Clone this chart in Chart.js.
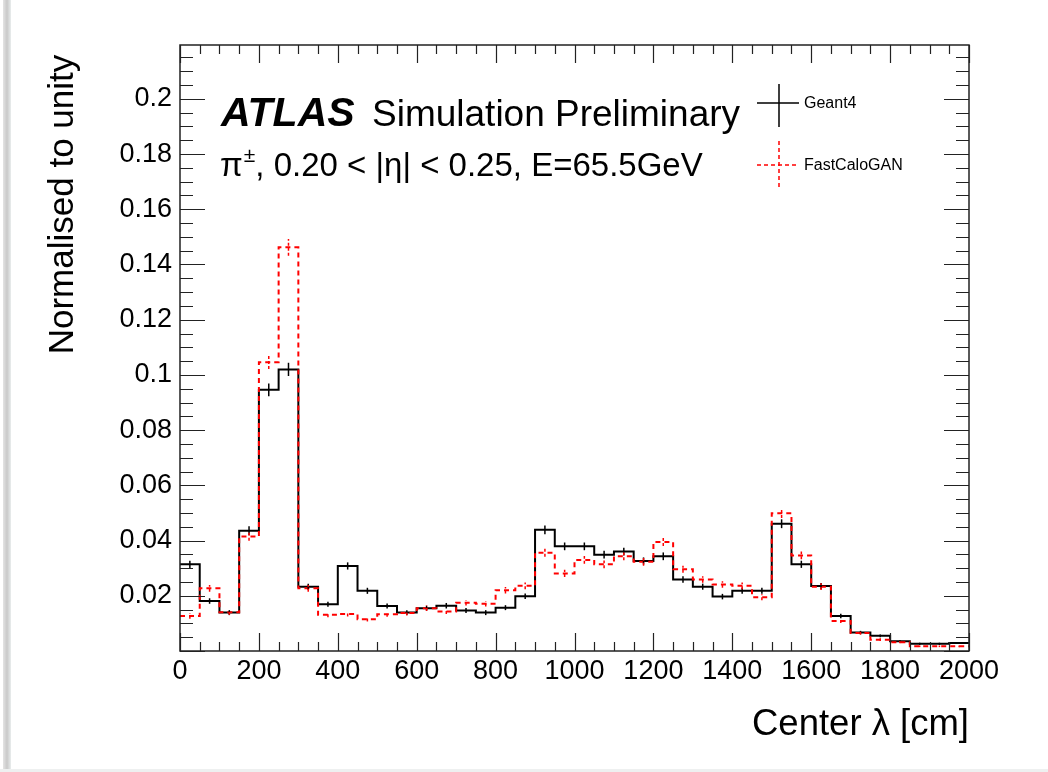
<!DOCTYPE html>
<html>
<head>
<meta charset="utf-8">
<script src="https://cdn.jsdelivr.net/npm/chart.js@4.4.1/dist/chart.umd.min.js"></script>
<style>
  html, body { margin: 0; padding: 0; background: #fff; }
  #wrap { position: relative; width: 1048px; height: 772px; overflow: hidden; }
  #myChart { position: absolute; left: 0; top: 0; }
  #edgeLeft { position: absolute; left: 3px; top: 0; width: 8px; height: 772px;
              background: linear-gradient(to right, #e4e4e4, #c9c9c9, #e9eded); }
  #edgeBottom { position: absolute; left: 0; bottom: 0; width: 1048px; height: 3px; background: #eef0f0; }
</style>
</head>
<body>
<div id="wrap">
  <canvas id="myChart" width="1048" height="772"></canvas>
  <div id="edgeLeft"></div>
  <div id="edgeBottom"></div>
</div>
<script>
// lower edge of each 50 cm bin
const binLow = [0, 50, 100, 150, 200, 250, 300, 350, 400, 450,
                500, 550, 600, 650, 700, 750, 800, 850, 900, 950,
                1000, 1050, 1100, 1150, 1200, 1250, 1300, 1350, 1400, 1450,
                1500, 1550, 1600, 1650, 1700, 1750, 1800, 1850, 1900, 1950];
const binWidth = 50;

const geant4 = [0.0314, 0.0181, 0.0139, 0.0436, 0.0946, 0.1020, 0.0233, 0.0169, 0.0308, 0.0218,
                0.0163, 0.0139, 0.0155, 0.0164, 0.0147, 0.0139, 0.0157, 0.0198, 0.0439, 0.0379,
                0.0379, 0.0349, 0.0360, 0.0326, 0.0343, 0.0259, 0.0233, 0.0197, 0.0218, 0.0218,
                0.0461, 0.0314, 0.0235, 0.0127, 0.0067, 0.0055, 0.0035, 0.0026, 0.0026, 0.0029];
const geant4Err = [0.0013, 0.0010, 0.0009, 0.0016, 0.0023, 0.0024, 0.0011, 0.0009, 0.0013, 0.0011,
                   0.0009, 0.0009, 0.0009, 0.0010, 0.0009, 0.0009, 0.0009, 0.0010, 0.0016, 0.0014,
                   0.0014, 0.0014, 0.0014, 0.0013, 0.0014, 0.0012, 0.0011, 0.0010, 0.0011, 0.0011,
                   0.0016, 0.0013, 0.0011, 0.0008, 0.0006, 0.0005, 0.0004, 0.0004, 0.0004, 0.0004];

const fastCaloGAN = [0.0127, 0.0227, 0.0140, 0.0415, 0.1046, 0.1462, 0.0227, 0.0131, 0.0134, 0.0115,
                     0.0133, 0.0138, 0.0155, 0.0143, 0.0175, 0.0171, 0.0220, 0.0236, 0.0356, 0.0281,
                     0.0330, 0.0314, 0.0343, 0.0323, 0.0395, 0.0296, 0.0259, 0.0241, 0.0236, 0.0195,
                     0.0499, 0.0346, 0.0233, 0.0109, 0.0065, 0.0041, 0.0032, 0.0017, 0.0017, 0.0017];
const fastCaloGANErr = [0.0010, 0.0012, 0.0009, 0.0016, 0.0025, 0.0030, 0.0012, 0.0009, 0.0009, 0.0008,
                        0.0009, 0.0009, 0.0010, 0.0009, 0.0010, 0.0010, 0.0012, 0.0012, 0.0015, 0.0013,
                        0.0014, 0.0014, 0.0014, 0.0014, 0.0015, 0.0013, 0.0012, 0.0012, 0.0012, 0.0011,
                        0.0017, 0.0014, 0.0012, 0.0008, 0.0006, 0.0005, 0.0004, 0.0003, 0.0003, 0.0003];

const xTickValues = [0, 200, 400, 600, 800, 1000, 1200, 1400, 1600, 1800, 2000];
const yTickValues = [0.02, 0.04, 0.06, 0.08, 0.1, 0.12, 0.14, 0.16, 0.18, 0.2];

const FONT = '"Liberation Sans", Arial, Helvetica, sans-serif';

// histogram outline: a point at each lower bin edge, plus the closing edge
function stepPoints(values) {
  const pts = binLow.map((x, i) => ({ x: x, y: values[i] }));
  pts.push({ x: binLow[binLow.length - 1] + binWidth, y: values[values.length - 1] });
  return pts;
}

// ROOT-like frame, inward ticks, error bars, labels and legend
const rootStyle = {
  id: 'rootStyle',
  afterDatasetsDraw(chart) {
    const ctx = chart.ctx;
    const xs = chart.scales.x, ys = chart.scales.y;
    const a = chart.chartArea;

    // error bars
    const errSets = [
      { vals: geant4, errs: geant4Err, color: '#000', dash: [] },
      { vals: fastCaloGAN, errs: fastCaloGANErr, color: '#ff0000', dash: [3, 2] }
    ];
    ctx.save();
    ctx.lineWidth = 1.5;
    errSets.forEach(s => {
      ctx.strokeStyle = s.color;
      ctx.setLineDash(s.dash);
      s.vals.forEach((v, i) => {
        const px = xs.getPixelForValue(binLow[i] + binWidth / 2);
        ctx.beginPath();
        ctx.moveTo(px, ys.getPixelForValue(v - s.errs[i]));
        ctx.lineTo(px, ys.getPixelForValue(v + s.errs[i]));
        ctx.stroke();
      });
    });
    ctx.setLineDash([]);

    // frame
    ctx.strokeStyle = '#222';
    ctx.lineWidth = 1.5;
    ctx.strokeRect(a.left, a.top, a.right - a.left, a.bottom - a.top);

    // inward ticks on all four sides
    ctx.lineWidth = 1.2;
    ctx.beginPath();
    for (let v = 0; v <= 2000; v += 50) {
      const px = Math.round(xs.getPixelForValue(v)) + 0.5;
      const len = v % 200 === 0 ? 18 : 9;
      ctx.moveTo(px, a.bottom); ctx.lineTo(px, a.bottom - len);
      ctx.moveTo(px, a.top); ctx.lineTo(px, a.top + len);
    }
    for (let k = 0; k * 0.005 <= ys.max + 1e-9; k++) {
      const py = Math.round(ys.getPixelForValue(k * 0.005)) + 0.5;
      const len = k % 4 === 0 ? 25 : 13;
      ctx.moveTo(a.left, py); ctx.lineTo(a.left + len, py);
      ctx.moveTo(a.right, py); ctx.lineTo(a.right - len, py);
    }
    ctx.stroke();

    // ATLAS label
    ctx.fillStyle = '#000';
    ctx.textBaseline = 'alphabetic';
    ctx.textAlign = 'left';
    ctx.font = 'italic bold 41px ' + FONT;
    ctx.fillText('ATLAS', 221, 126);
    ctx.font = '37px ' + FONT;
    ctx.fillText('Simulation Preliminary', 372, 126);

    ctx.font = '33px ' + FONT;
    let x = 220;
    ctx.fillText('π', x, 176);
    x += ctx.measureText('π').width;
    ctx.font = '21px ' + FONT;
    ctx.fillText('±', x + 1, 162);
    x += ctx.measureText('±').width + 1;
    ctx.font = '33px ' + FONT;
    ctx.fillText(', 0.20 < |η| < 0.25, E=65.5GeV', x, 176);

    // legend
    ctx.lineWidth = 1.5;
    ctx.strokeStyle = '#000';
    ctx.beginPath();
    ctx.moveTo(779, 84); ctx.lineTo(779, 127);
    ctx.moveTo(757, 103); ctx.lineTo(799, 103);
    ctx.stroke();
    ctx.strokeStyle = '#ff0000';
    ctx.setLineDash([4, 3]);
    ctx.beginPath();
    ctx.moveTo(779, 141); ctx.lineTo(779, 188);
    ctx.moveTo(757, 165); ctx.lineTo(799, 165);
    ctx.stroke();
    ctx.setLineDash([]);
    ctx.font = '16px ' + FONT;
    ctx.textBaseline = 'middle';
    ctx.fillText('Geant4', 804, 104);
    ctx.fillText('FastCaloGAN', 804, 166);
    ctx.restore();
  }
};

new Chart(document.getElementById('myChart'), {
  type: 'line',
  data: {
    datasets: [
      {
        label: 'FastCaloGAN',
        data: stepPoints(fastCaloGAN),
        borderColor: '#ff0000',
        borderWidth: 2,
        borderDash: [5, 4],
        stepped: 'before',
        pointRadius: 0,
        fill: false,
        order: 0
      },
      {
        label: 'Geant4',
        data: stepPoints(geant4),
        borderColor: '#000',
        borderWidth: 2,
        stepped: 'before',
        pointRadius: 0,
        fill: false,
        order: 1
      }
    ]
  },
  options: {
    responsive: false,
    animation: false,
    layout: { padding: { top: 45, right: 79, left: 0, bottom: 0 } },
    plugins: {
      legend: { display: false },
      tooltip: { enabled: false }
    },
    scales: {
      x: {
        type: 'linear',
        min: 0,
        max: 2000,
        afterBuildTicks: s => { s.ticks = xTickValues.map(v => ({ value: v })); },
        afterFit: s => { s.height = 121; },
        grid: { display: false, drawTicks: false },
        border: { display: false },
        ticks: {
          color: '#000',
          font: { family: FONT, size: 27 },
          padding: 4,
          maxRotation: 0,
          autoSkip: false,
          callback: v => String(v)
        },
        title: {
          display: true,
          text: 'Center λ [cm]',
          align: 'end',
          color: '#000',
          font: { family: FONT, size: 36.5 },
          padding: { top: 0, bottom: 25 }
        }
      },
      y: {
        type: 'linear',
        min: 0,
        max: 0.2195,
        afterBuildTicks: s => { s.ticks = yTickValues.map(v => ({ value: v })); },
        afterFit: s => { s.width = 180; },
        grid: { display: false, drawTicks: false },
        border: { display: false },
        ticks: {
          color: '#000',
          font: { family: FONT, size: 27 },
          padding: 8,
          autoSkip: false,
          callback: v => String(v)
        },
        title: {
          display: true,
          text: 'Normalised to unity ',
          align: 'end',
          color: '#000',
          font: { family: FONT, size: 35 },
          padding: { top: 42, bottom: 0 }
        }
      }
    }
  },
  plugins: [rootStyle]
});
</script>
</body>
</html>
